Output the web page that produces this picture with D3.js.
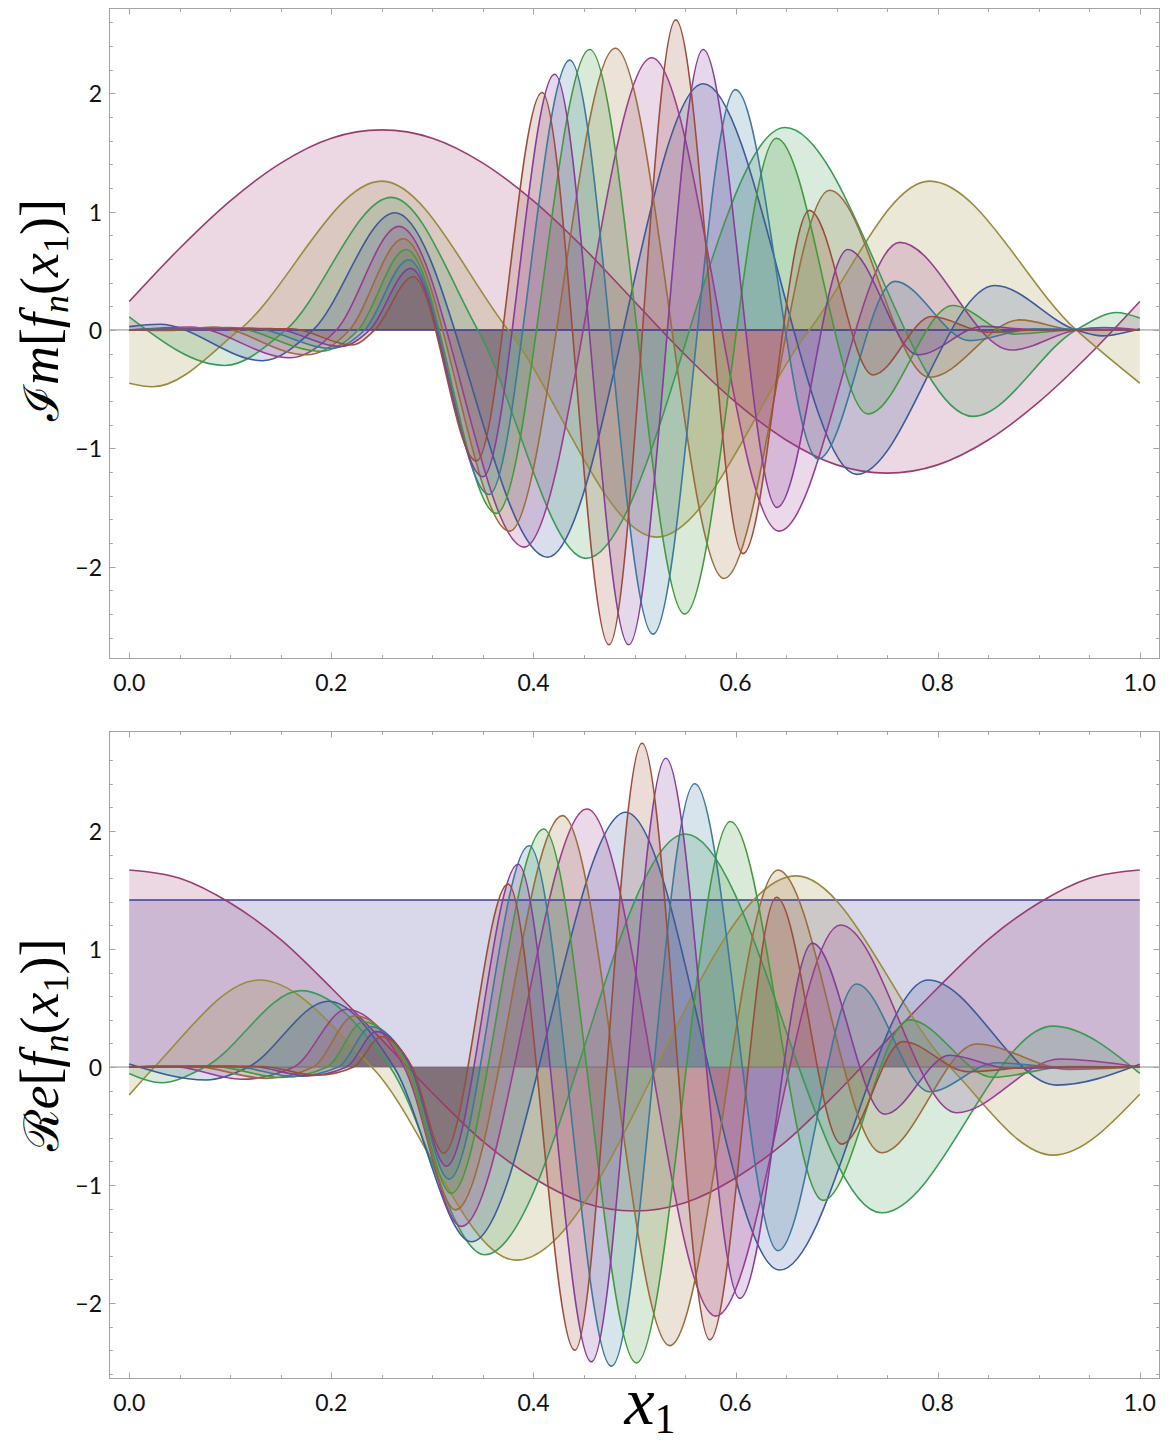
<!DOCTYPE html>
<html>
<head>
<meta charset="utf-8">
<script src="https://cdn.jsdelivr.net/npm/d3@7"></script>
<style>
  body { margin: 0; background: #ffffff; }
  svg { display: block; }
</style>
</head>
<body>
<svg id="chart" width="1168" height="1442"></svg>
<script>
// ---- Imaginary parts, [x1, Im f_n(x1)] at extrema, zero crossings and ends ----
const imF0 = [[0, 0], [1, 0]];
const imF1 = [[0, 0.24], [0.05, 0.69], [0.1, 1.09], [0.15, 1.41], [0.2, 1.62], [0.25, 1.69],
  [0.3, 1.62], [0.35, 1.41], [0.4, 1.09], [0.45, 0.69], [0.5, 0.24], [0.55, -0.21], [0.6, -0.61],
  [0.65, -0.93], [0.7, -1.14], [0.75, -1.21], [0.8, -1.14], [0.85, -0.93], [0.9, -0.61],
  [0.95, -0.21], [1, 0.24]];
const imF2 = [[0, -0.45], [0.023, -0.48], [0.109, 0], [0.25, 1.257], [0.375, 0], [0.522, -1.75],
  [0.673, 0], [0.792, 1.257], [0.937, 0], [1, -0.45]];
const imF3 = [[0, 0.11], [0.0945, -0.30], [0.155, 0], [0.2595, 1.12], [0.345, 0], [0.452, -1.93],
  [0.649, 1.71], [0.835, -0.73], [0.937, 0], [0.977, 0.147], [1, 0.10]];
const imF4 = [[0, 0.028], [0.03, 0.048], [0.132, -0.26], [0.182, 0], [0.263, 0.99], [0.414, -1.92],
  [0.568, 2.08], [0.72, -1.22], [0.8565, 0.375], [0.937, 0], [0.963, -0.05], [1, 0.01]];
const imF5 = [[0, 0], [0.06, 0.025], [0.159, -0.235], [0.205, 0], [0.267, 0.875], [0.391, -1.835],
  [0.517, 2.30], [0.643, -1.70], [0.7625, 0.74], [0.873, -0.17], [0.937, 0], [0.965, 0.02], [1, 0]];
const imF6 = [[0, 0], [0.04, -0.005], [0.083, 0.025], [0.175, -0.21], [0.218, 0], [0.271, 0.77],
  [0.3765, -1.70], [0.481, 2.38], [0.5886, -2.10], [0.693, 1.18], [0.792, -0.40], [0.881, 0.085],
  [0.937, 0], [1, 0]];
const imF7 = [[0, 0], [0.1, 0.02], [0.189, -0.18], [0.2265, 0], [0.274, 0.68], [0.3634, -1.55],
  [0.4557, 2.37], [0.5497, -2.40], [0.6405, 1.62], [0.731, -0.71], [0.815, 0.206], [0.875, -0.035],
  [0.937, 0], [1, 0]];
const imF8 = [[0, 0], [0.12, 0.015], [0.2, -0.155], [0.233, 0], [0.2766, 0.593], [0.356, -1.39],
  [0.436, 2.28], [0.5183, -2.57], [0.600, 2.03], [0.6817, -1.09], [0.7575, 0.41], [0.8317, -0.09],
  [0.895, 0.01], [1, 0]];
const imF9 = [[0, 0], [0.14, 0.012], [0.21, -0.14], [0.238, 0], [0.2786, 0.52], [0.350, -1.24],
  [0.421, 2.16], [0.4943, -2.66], [0.568, 2.37], [0.641, -1.50], [0.711, 0.68], [0.7806, -0.21],
  [0.845, 0.03], [0.9, 0], [1, 0]];
const imF10 = [[0, 0], [0.16, 0.01], [0.22, -0.127], [0.243, 0], [0.281, 0.45], [0.3436, -1.107],
  [0.4085, 2.006], [0.4748, -2.66], [0.5408, 2.62], [0.6074, -1.89], [0.673, 1.01], [0.736, -0.38],
  [0.794, 0.113], [0.85, -0.02], [0.9, 0], [1, 0]];

// ---- Real parts, [x1, Re f_n(x1)] ----
const reF0 = [[0, 1.415], [1, 1.415]];
const reF1 = [[0, 1.67], [0.05, 1.60], [0.1, 1.39], [0.15, 1.08], [0.2, 0.67], [0.25, 0.23],
  [0.3, -0.22], [0.35, -0.63], [0.4, -0.94], [0.45, -1.15], [0.5, -1.22], [0.55, -1.15],
  [0.6, -0.94], [0.65, -0.63], [0.7, -0.22], [0.75, 0.23], [0.8, 0.67], [0.85, 1.08],
  [0.9, 1.39], [0.95, 1.60], [1, 1.67]];
const reF2 = [[0, -0.237], [0.025, 0], [0.129, 0.737], [0.24, 0], [0.383, -1.636], [0.660, 1.62],
  [0.812, 0], [0.914, -0.746], [1, -0.23]];
const reF3 = [[0, -0.054], [0.032, -0.133], [0.075, 0], [0.170, 0.647], [0.258, 0], [0.3518, -1.59],
  [0.5504, 1.975], [0.7444, -1.235], [0.914, 0.347], [1, -0.054]];
const reF4 = [[0, 0.025], [0.0764, -0.11], [0.118, 0], [0.1968, 0.557], [0.262, 0], [0.3386, -1.48],
  [0.4913, 2.158], [0.6437, -1.72], [0.7905, 0.737], [0.9175, -0.153], [1, 0.023]];
const reF5 = [[0, 0], [0.04, 0.01], [0.111, -0.104], [0.163, 0], [0.215, 0.49], [0.272, 0],
  [0.3287, -1.35], [0.453, 2.186], [0.5804, -2.11], [0.7038, 1.203], [0.8186, -0.387],
  [0.921, 0.068], [1, 0]];
const reF6 = [[0, 0], [0.06, 0.01], [0.1358, -0.096], [0.182, 0], [0.223, 0.435], [0.274, 0],
  [0.3231, -1.21], [0.4287, 2.13], [0.5349, -2.36], [0.642, 1.67], [0.7444, -0.726],
  [0.8384, 0.195], [0.93, -0.02], [1, 0]];
const reF7 = [[0, 0], [0.08, 0.01], [0.1506, -0.088], [0.196, 0], [0.2314, 0.384], [0.276, 0],
  [0.3188, -1.07], [0.410, 2.017], [0.5019, -2.506], [0.595, 2.08], [0.6866, -1.13], [0.772, 0.40],
  [0.855, -0.087], [0.93, 0.005], [1, 0]];
const reF8 = [[0, 0], [0.1, 0.008], [0.1636, -0.08], [0.207, 0], [0.2397, 0.342], [0.278, 0],
  [0.3165, -0.95], [0.3957, 1.875], [0.4772, -2.534], [0.5596, 2.40], [0.642, -1.557],
  [0.7196, 0.703], [0.792, -0.209], [0.858, 0.036], [0.92, 0], [1, 0]];
const reF9 = [[0, 0], [0.12, 0.006], [0.176, -0.075], [0.215, 0], [0.2446, 0.30], [0.279, 0],
  [0.314, -0.84], [0.3848, 1.718], [0.4574, -2.497], [0.531, 2.616], [0.6042, -1.96], [0.676, 1.05],
  [0.7476, -0.40], [0.812, 0.10], [0.87, -0.01], [1, 0]];
const reF10 = [[0, 0], [0.13, 0.005], [0.186, -0.07], [0.222, 0], [0.2496, 0.257], [0.28, 0],
  [0.3112, -0.73], [0.3749, 1.55], [0.4409, -2.40], [0.5075, 2.743], [0.5745, -2.31],
  [0.6405, 1.438], [0.7048, -0.653], [0.7658, 0.215], [0.83, -0.04], [0.9, 0], [1, 0]];

// ---- ticks ----
const xTickValues = [0, 0.2, 0.4, 0.6, 0.8, 1.0];
const yTickValues = [-2, -1, 0, 1, 2];

// one colour per n = 0..10
const seriesColors = [
  "rgb(63,61,153)", "rgb(153,61,113)", "rgb(153,139,61)", "rgb(61,153,86)",
  "rgb(61,90,153)", "rgb(153,61,144)", "rgb(153,109,61)", "rgb(67,153,61)",
  "rgb(61,121,153)", "rgb(132,61,153)", "rgb(153,78,61)"
];

const imSeries = [imF0, imF1, imF2, imF3, imF4, imF5, imF6, imF7, imF8, imF9, imF10];
const reSeries = [reF0, reF1, reF2, reF3, reF4, reF5, reF6, reF7, reF8, reF9, reF10];

const svg = d3.select("#chart");
const frameLeft = 109, frameRight = 1160;
const x = d3.scaleLinear().domain([-0.02, 1.02]).range([frameLeft, frameRight]);
const frameColor = "#a3a3a3";
const tickFont = "Lato, 'Open Sans', sans-serif";
const fmtX = d3.format(".1f");
const fmtY = v => (v < 0 ? "\u2212" + Math.abs(v) : String(v));

function drawPanel(series, top, bottom, yDomain, id) {
  const y = d3.scaleLinear().domain(yDomain).range([bottom, top]);
  const g = svg.append("g");

  g.append("clipPath").attr("id", id)
    .append("rect").attr("x", frameLeft).attr("y", top)
    .attr("width", frameRight - frameLeft).attr("height", bottom - top);

  const plot = g.append("g").attr("clip-path", `url(#${id})`);

  // horizontal axis through zero
  plot.append("line")
    .attr("x1", frameLeft).attr("x2", frameRight)
    .attr("y1", y(0)).attr("y2", y(0))
    .attr("stroke", "#8c8c8c").attr("stroke-width", 1);

  const area = d3.area()
    .x(d => x(d[0])).y0(y(0)).y1(d => y(d[1]))
    .curve(d3.curveMonotoneX);
  const line = d3.line()
    .x(d => x(d[0])).y(d => y(d[1]))
    .curve(d3.curveMonotoneX);

  // fillings to the axis
  plot.selectAll("path.fill").data(series).join("path")
    .attr("class", "fill")
    .attr("d", area)
    .attr("fill", (d, i) => seriesColors[i])
    .attr("fill-opacity", 0.2)
    .attr("stroke", "none");

  // curves
  plot.selectAll("path.curve").data(series).join("path")
    .attr("class", "curve")
    .attr("d", line)
    .attr("fill", "none")
    .attr("stroke", (d, i) => seriesColors[i])
    .attr("stroke-width", 1.6)
    .attr("stroke-linejoin", "round");

  // frame
  g.append("rect")
    .attr("x", frameLeft + 0.5).attr("y", top + 0.5)
    .attr("width", frameRight - frameLeft - 1).attr("height", bottom - top - 1)
    .attr("fill", "none").attr("stroke", frameColor).attr("stroke-width", 1);

  const ticks = g.append("g").attr("stroke", frameColor).attr("stroke-width", 1);
  const xMinor = d3.range(0, 1.0001, 0.05).filter(v => Math.abs(v * 5 - Math.round(v * 5)) > 1e-6);
  const yMinor = d3.range(-2.6, 2.61, 0.2).filter(v => Math.abs(v - Math.round(v)) > 1e-6)
    .filter(v => v > yDomain[0] && v < yDomain[1]);

  const xTickSet = xTickValues.map(v => ({ v, len: 6.5 })).concat(xMinor.map(v => ({ v, len: 3.8 })));
  xTickSet.forEach(t => {
    const px = Math.round(x(t.v)) + 0.5;
    ticks.append("line").attr("x1", px).attr("x2", px).attr("y1", bottom).attr("y2", bottom - t.len);
    ticks.append("line").attr("x1", px).attr("x2", px).attr("y1", top).attr("y2", top + t.len);
  });
  const yTickSet = yTickValues.map(v => ({ v, len: 6.5 })).concat(yMinor.map(v => ({ v, len: 3.8 })));
  yTickSet.forEach(t => {
    const py = Math.round(y(t.v)) + 0.5;
    ticks.append("line").attr("y1", py).attr("y2", py).attr("x1", frameLeft).attr("x2", frameLeft + t.len);
    ticks.append("line").attr("y1", py).attr("y2", py).attr("x1", frameRight).attr("x2", frameRight - t.len);
  });

  // tick labels
  g.selectAll("text.xl").data(xTickValues).join("text")
    .attr("class", "xl")
    .attr("x", d => x(d)).attr("y", bottom + 23)
    .attr("text-anchor", "middle").attr("dominant-baseline", "central")
    .attr("font-family", tickFont).attr("font-size", 23).attr("fill", "#111")
    .text(d => fmtX(d));
  g.selectAll("text.yl").data(yTickValues).join("text")
    .attr("class", "yl")
    .attr("x", 102).attr("y", d => y(d))
    .attr("text-anchor", "end").attr("dominant-baseline", "central")
    .attr("font-family", tickFont).attr("font-size", 23).attr("fill", "#111")
    .text(d => fmtY(d));
  return y;
}

drawPanel(imSeries, 8, 659, [-2.78, 2.72], "clipIm");
drawPanel(reSeries, 731, 1379, [-2.643, 2.847], "clipRe");

// axis titles
const mathFont = "'Liberation Serif', 'DejaVu Serif', serif";
function yTitle(cx, cy, head, tail) {
  const t = svg.append("text")
    .attr("transform", `translate(${cx},${cy}) rotate(-90)`)
    .attr("text-anchor", "middle")
    .attr("font-family", mathFont).attr("font-size", 54).attr("fill", "#000");
  t.append("tspan").attr("font-family", "'DejaVu Serif', serif").attr("font-size", 48).text(head);
  t.append("tspan").attr("font-style", "italic").text(tail);
  t.append("tspan").text("[");
  t.append("tspan").attr("font-style", "italic").text("f");
  t.append("tspan").attr("font-style", "italic").attr("font-size", 36).attr("dy", 10).text("n");
  t.append("tspan").attr("dy", -10).text("(");
  t.append("tspan").attr("font-style", "italic").text("x");
  t.append("tspan").attr("font-size", 36).attr("dy", 10).text("1");
  t.append("tspan").attr("dy", -10).text(")]");
}
yTitle(58, 310, "\u2110", "m");
yTitle(58, 1045, "\u211B", "e");

const xt = svg.append("text")
  .attr("x", 650).attr("y", 1424)
  .attr("text-anchor", "middle")
  .attr("font-family", mathFont).attr("fill", "#000");
xt.append("tspan").attr("font-style", "italic").attr("font-size", 68).text("x");
xt.append("tspan").attr("font-size", 42).attr("dy", 9).text("1");
</script>
</body>
</html>
